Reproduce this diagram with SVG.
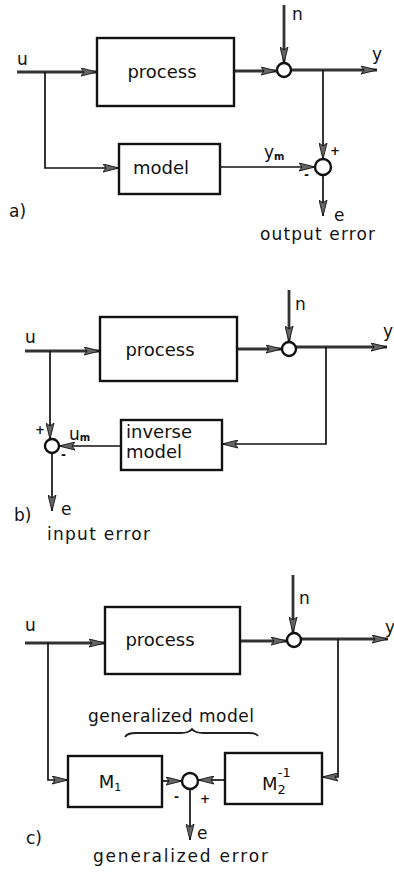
<svg xmlns="http://www.w3.org/2000/svg" width="394" height="872" viewBox="0 0 394 872">
<style>
.box{fill:#fff;stroke:#111;stroke-width:2.4}
.sum{fill:#fff;stroke:#111;stroke-width:2.4}
.lbl{font-family:"DejaVu Sans","Liberation Sans",sans-serif;font-size:18px;fill:#111}
.sm{font-family:"DejaVu Sans","Liberation Sans",sans-serif;font-size:17px;fill:#111}
.sign{font-family:"DejaVu Sans","Liberation Sans",sans-serif;font-size:12px;font-weight:bold;fill:#111}
.main{fill:none;stroke:#333;stroke-width:2.8}
.thin{fill:none;stroke:#111;stroke-width:1.7}
</style>
<defs>
<marker id="arr" viewBox="0 0 16 9" markerWidth="16" markerHeight="9" refX="16" refY="4.5" orient="auto" markerUnits="userSpaceOnUse">
<path d="M0,0.5 L16,4.5 L0,8.5 L3,4.5 z" fill="#666" stroke="#111" stroke-width="0.9"/>
</marker>
</defs>
<rect width="394" height="872" fill="#fff"/>

<g id="connectors">
<!-- a -->
<path class="main" d="M17,72 H97" marker-end="url(#arr)"/>
<path class="main" d="M234,71 H277" marker-end="url(#arr)"/>
<path class="main" d="M284,5 V63" marker-end="url(#arr)"/>
<path class="main" d="M291,70 H377" marker-end="url(#arr)"/>
<path class="thin" d="M45,72 V168 H119" marker-end="url(#arr)"/>
<path class="thin" d="M323,70 V159" marker-end="url(#arr)"/>
<path class="thin" d="M220,167 H315" marker-end="url(#arr)"/>
<path class="thin" d="M323,175 V216" marker-end="url(#arr)"/>
<!-- b -->
<path class="main" d="M25,351 H100" marker-end="url(#arr)"/>
<path class="main" d="M237,349 H282" marker-end="url(#arr)"/>
<path class="main" d="M289,290 V342" marker-end="url(#arr)"/>
<path class="main" d="M296,347 H387" marker-end="url(#arr)"/>
<path class="thin" d="M326,347 V444 H222" marker-end="url(#arr)"/>
<path class="thin" d="M121,446 H59" marker-end="url(#arr)"/>
<path class="thin" d="M50,351 V439" marker-end="url(#arr)"/>
<path class="thin" d="M52,453 V511" marker-end="url(#arr)"/>
<!-- c -->
<path class="main" d="M25,643 H105" marker-end="url(#arr)"/>
<path class="main" d="M240,641 H287" marker-end="url(#arr)"/>
<path class="main" d="M293,575 V633" marker-end="url(#arr)"/>
<path class="main" d="M301,639 H388" marker-end="url(#arr)"/>
<path class="thin" d="M338,639 V777 H322" marker-end="url(#arr)"/>
<path class="thin" d="M48,643 V780 H68" marker-end="url(#arr)"/>
<path class="thin" d="M162,781 H182" marker-end="url(#arr)"/>
<path class="thin" d="M225,780 H198" marker-end="url(#arr)"/>
<path class="thin" d="M190,789 V840" marker-end="url(#arr)"/>
</g>

<!-- diagram a -->
<g id="a-process"><rect class="box" x="97" y="38" width="137" height="68"/><text class="lbl" x="162" y="78" text-anchor="middle">process</text></g>
<g id="a-sum1"><circle class="sum" cx="284" cy="70" r="7"/></g>
<g id="a-model"><rect class="box" x="119" y="144" width="101" height="50"/><text class="lbl" x="161" y="174" text-anchor="middle">model</text></g>
<g id="a-sum2"><circle class="sum" cx="323" cy="167" r="8"/></g>
<g id="a-labels">
<text class="sm" x="17" y="65">u</text>
<text class="sm" x="292" y="20">n</text>
<text class="sm" x="372" y="60">y</text>
<text class="sm" x="264" y="158">y<tspan font-size="10" font-weight="bold" dy="2">m</tspan></text>
<text class="sign" x="330" y="155">+</text>
<text class="sign" x="304" y="179">-</text>
<text class="sm" x="334" y="221">e</text>
<text class="sm" x="9" y="217">a)</text>
<text class="sm" x="260" y="240" textLength="115" lengthAdjust="spacing">output  error</text>
</g>

<!-- diagram b -->
<g id="b-process"><rect class="box" x="100" y="317" width="137" height="64"/><text class="lbl" x="160" y="356" text-anchor="middle">process</text></g>
<g id="b-sum1"><circle class="sum" cx="289" cy="349" r="7"/></g>
<g id="b-inverse"><rect class="box" x="121" y="420" width="101" height="50"/><text class="lbl" x="126" y="438">inverse</text><text class="lbl" x="126" y="458">model</text></g>
<g id="b-sum2"><circle class="sum" cx="52" cy="446" r="7"/></g>
<g id="b-labels">
<text class="sm" x="25" y="343">u</text>
<text class="sm" x="295" y="310">n</text>
<text class="sm" x="383" y="337">y</text>
<text class="sm" x="69" y="440">u<tspan font-size="10" font-weight="bold" dy="1">m</tspan></text>
<text class="sign" x="35" y="434">+</text>
<text class="sign" x="61" y="459">-</text>
<text class="sm" x="61" y="515">e</text>
<text class="sm" x="14" y="521">b)</text>
<text class="sm" x="47" y="540" textLength="103" lengthAdjust="spacing">input error</text>
</g>

<!-- diagram c -->
<g id="c-process"><rect class="box" x="105" y="607" width="135" height="67"/><text class="lbl" x="160" y="646" text-anchor="middle">process</text></g>
<g id="c-sum1"><circle class="sum" cx="294" cy="640" r="7"/></g>
<g id="c-M1"><rect class="box" x="68" y="756" width="94" height="51"/><text class="lbl" x="110" y="788" text-anchor="middle">M<tspan font-size="11" dy="3">1</tspan></text></g>
<g id="c-M2inv"><rect class="box" x="225" y="753" width="97" height="51"/><text class="lbl" x="262" y="790">M<tspan font-size="13" dy="4">2</tspan><tspan font-size="13" dx="-8" dy="-17">-1</tspan></text></g>
<g id="c-sum2"><circle class="sum" cx="190" cy="781" r="8"/></g>
<g id="c-labels">
<text class="sm" x="25" y="631">u</text>
<text class="sm" x="299" y="604">n</text>
<text class="sm" x="385" y="633">y</text>
<text class="sm" x="88" y="722" textLength="166" lengthAdjust="spacing">generalized model</text>
<path d="M125,737 Q127,733 136,733 L181,733 Q189,733 192,729 Q195,733 203,733 L249,733 Q256,733 258,736" fill="none" stroke="#222" stroke-width="1.8"/>
<text class="sign" x="174" y="801">-</text>
<text class="sign" x="200" y="803">+</text>
<text class="sm" x="197" y="839">e</text>
<text class="sm" x="26" y="844">c)</text>
<text class="sm" x="93" y="862" textLength="175" lengthAdjust="spacing">generalized  error</text>
</g>
</svg>
